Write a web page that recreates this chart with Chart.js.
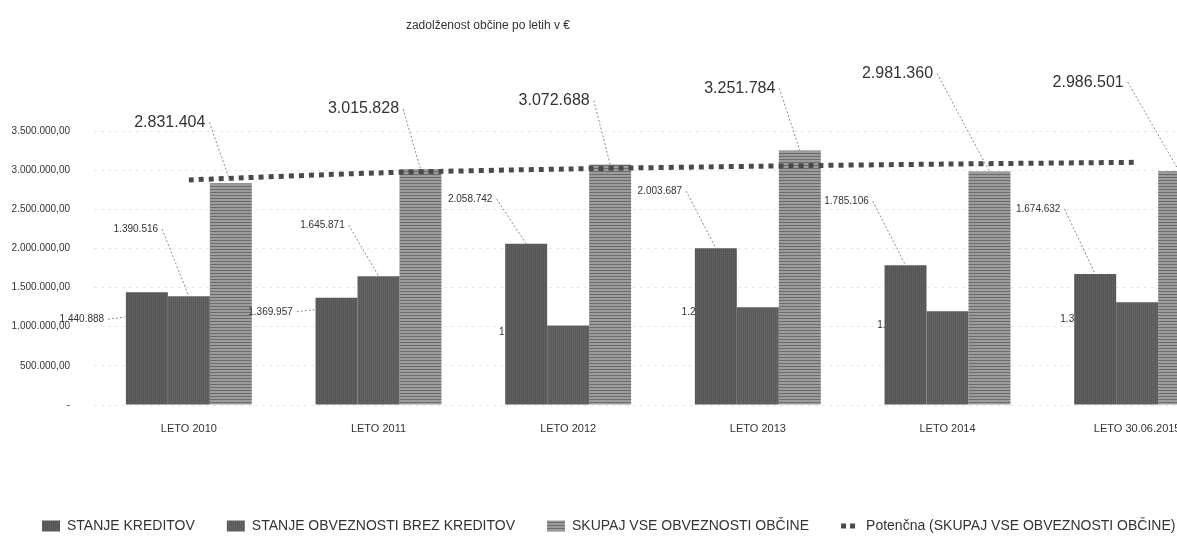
<!DOCTYPE html>
<html>
<head>
<meta charset="utf-8">
<title>zadolženost občine po letih v €</title>
<script src="https://cdn.jsdelivr.net/npm/chart.js@4/dist/chart.umd.min.js"></script>
<style>
  html, body { margin: 0; padding: 0; background: #fff; overflow: hidden; }
  #wrap { position: relative; width: 1236px; height: 543px; }
  #title {
    position: absolute; top: 18px; left: 0; width: 976px; text-align: center;
    font: 12px 'Liberation Sans', Arial, sans-serif; color: #333;
  }
</style>
</head>
<body>
<div id="wrap">
  <div id="title">zadolženost občine po letih v €</div>
  <canvas id="chart" width="1236" height="543"></canvas>
</div>
<script>
/* Data */
const leta = ['LETO 2010', 'LETO 2011', 'LETO 2012', 'LETO 2013', 'LETO 2014', 'LETO 30.06.2015'];
const stanjeKreditov = [1440888, 1369957, 2058742, 2003687, 1785106, 1674632];
const obveznostiBrezKreditov = [1390516, 1645871, 1013946, 1248097, 1196254, 1311869];
const skupajObveznosti = [2831404, 3015828, 3072688, 3251784, 2981360, 2986501];
const potencna = [2875000, 2965000, 3015000, 3050000, 3078000, 3100000];
const yMax = 3500000;
const yStep = 500000;

const FONT = "'Liberation Sans', Arial, sans-serif";
Chart.defaults.font.family = FONT;

function fmt(v) {
  return String(Math.round(v)).replace(/\B(?=(\d{3})+(?!\d))/g, '.');
}

/* Fill textures, scanned look */
function texture(a, b, h) {
  const c = document.createElement('canvas');
  c.width = 4; c.height = h;
  const g = c.getContext('2d');
  g.fillStyle = a; g.fillRect(0, 0, 4, h);
  g.fillStyle = b;
  if (h === 2) { g.fillRect(0, 0, 1, 1); g.fillRect(2, 1, 1, 1); }
  else g.fillRect(0, 0, 4, 1);
  return g.createPattern(c, 'repeat');
}
const fillKrediti = texture('#555555', '#6a6a6a', 2);
const fillObveznosti = texture('#5a5a5a', '#6e6e6e', 2);
const fillSkupaj = texture('#9c9c9c', '#6c6c6c', 3);

/* Label placement: offset from bar top centre */
const labelLayout = [
  { ds: 2, i: 0, dx: -61, dy: -61, big: true },
  { ds: 2, i: 1, dx: -57, dy: -60, big: true },
  { ds: 2, i: 2, dx: -56, dy: -64, big: true },
  { ds: 2, i: 3, dx: -60, dy: -62, big: true },
  { ds: 2, i: 4, dx: -92, dy: -98, big: true },
  { ds: 2, i: 5, dx: -91, dy: -89, big: true },
  { ds: 1, i: 0, dx: -53, dy: -67 },
  { ds: 1, i: 1, dx: -56, dy: -51 },
  { ds: 0, i: 2, dx: -56, dy: -45 },
  { ds: 0, i: 3, dx: -56, dy: -57 },
  { ds: 0, i: 4, dx: -59, dy: -64 },
  { ds: 0, i: 5, dx: -57, dy: -65 },
  { ds: 0, i: 0, dx: -65, dy: 27 },
  { ds: 0, i: 1, dx: -66, dy: 14 },
  { ds: 1, i: 2, dx: -47, dy: 7, hidden: true },
  { ds: 1, i: 3, dx: -54, dy: 5, hidden: true },
  { ds: 1, i: 4, dx: -48, dy: 14, hidden: true },
  { ds: 1, i: 5, dx: -55, dy: 17, hidden: true }
];

function drawLabels(chart, hidden) {
  const ctx = chart.ctx;
  ctx.save();
  labelLayout.filter(l => !!l.hidden === hidden).forEach(l => {
    const bar = chart.getDatasetMeta(l.ds).data[l.i];
    const text = fmt(chart.data.datasets[l.ds].data[l.i]);
    const x = bar.x + l.dx;
    const y = bar.y + l.dy;
    ctx.font = (l.big ? '16px ' : '10px ') + FONT;
    ctx.fillStyle = '#333';
    ctx.textAlign = 'center';
    ctx.textBaseline = 'middle';
    ctx.fillText(text, x, y);
    if (hidden) return;
    const w = ctx.measureText(text).width;
    let ex = bar.x, ey = bar.y;
    if (l.dy > 0) { ex = bar.x - bar.width / 2 - 1; ey = y - 2; }
    ctx.beginPath();
    ctx.setLineDash([2, 2]);
    ctx.strokeStyle = '#8a8a8a';
    ctx.lineWidth = 1;
    ctx.moveTo(x + w / 2 + 4, y);
    ctx.lineTo(ex, ey);
    ctx.stroke();
    ctx.setLineDash([]);
  });
  ctx.restore();
}

const dataLabels = {
  id: 'dataLabels',
  beforeDatasetsDraw(chart) { drawLabels(chart, true); },
  afterDatasetsDraw(chart) { drawLabels(chart, false); }
};

const ctx = document.getElementById('chart').getContext('2d');

new Chart(ctx, {
  type: 'bar',
  data: {
    labels: leta,
    datasets: [
      {
        label: 'STANJE KREDITOV',
        data: stanjeKreditov,
        backgroundColor: fillKrediti,
        categoryPercentage: 0.664,
        barPercentage: 1
      },
      {
        label: 'STANJE OBVEZNOSTI BREZ KREDITOV',
        data: obveznostiBrezKreditov,
        backgroundColor: fillObveznosti,
        categoryPercentage: 0.664,
        barPercentage: 1
      },
      {
        label: 'SKUPAJ VSE OBVEZNOSTI OBČINE',
        data: skupajObveznosti,
        backgroundColor: fillSkupaj,
        categoryPercentage: 0.664,
        barPercentage: 1
      },
      {
        type: 'line',
        label: 'Potenčna (SKUPAJ VSE OBVEZNOSTI OBČINE)',
        data: potencna,
        borderColor: '#4a4a4a',
        backgroundColor: 'rgba(0,0,0,0)',
        borderWidth: 5,
        borderDash: [5, 5],
        borderCapStyle: 'butt',
        pointRadius: 0,
        tension: 0.3,
        fill: false,
        order: -1
      }
    ]
  },
  options: {
    responsive: false,
    devicePixelRatio: 1,
    animation: false,
    layout: { padding: { top: 131, left: 10, right: 4, bottom: 0 } },
    plugins: {
      title: { display: false },
      tooltip: { enabled: false },
      legend: {
        position: 'bottom',
        align: 'start',
        labels: {
          usePointStyle: true,
          pointStyleWidth: 18,
          boxHeight: 11,
          padding: 32,
          color: '#333',
          font: { size: 14, family: FONT },
          sort: (a, b) => a.datasetIndex - b.datasetIndex,
          generateLabels(chart) {
            const items = Chart.defaults.plugins.legend.labels.generateLabels(chart);
            return items.map(it => {
              if (it.datasetIndex === 3) {
                return Object.assign(it, { pointStyle: 'line', lineDash: [5, 4], lineWidth: 5, lineCap: 'butt' });
              }
              return Object.assign(it, { pointStyle: 'rect' });
            });
          }
        }
      }
    },
    scales: {
      x: {
        grid: { display: false, drawTicks: false },
        border: { display: false },
        ticks: { color: '#333', font: { size: 11, family: FONT }, padding: 17, maxRotation: 0 },
        afterFit(axis) { axis.height = 82; }
      },
      y: {
        min: 0,
        max: yMax,
        grid: { color: 'rgba(0,0,0,0.09)', drawTicks: false },
        border: { display: false, dash: [3, 4] },
        ticks: {
          stepSize: yStep,
          padding: 24,
          color: '#333',
          font: { size: 10, family: FONT },
          callback: v => v === 0 ? '-' : fmt(v) + ',00'
        },
        afterFit(axis) { axis.width = 84; }
      }
    }
  },
  plugins: [dataLabels]
});
</script>
</body>
</html>
